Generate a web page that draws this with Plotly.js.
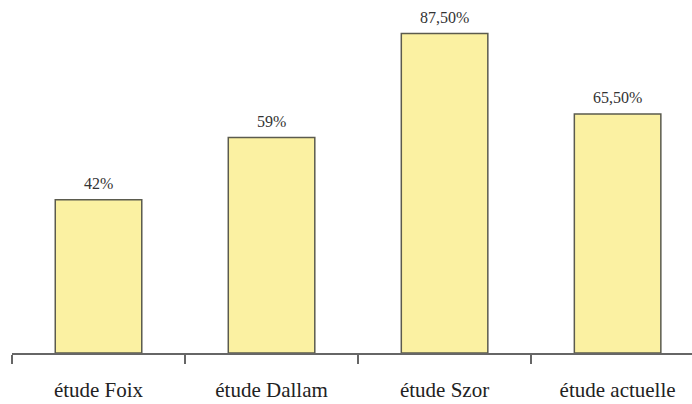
<!DOCTYPE html>
<html>
<head>
<meta charset="utf-8">
<script src="https://cdn.plot.ly/plotly-3.0.1.min.js"></script>
<style>html,body{margin:0;padding:0;background:#fff;}#chart{width:692px;height:404px;}</style>
</head>
<body>
<div id="chart"></div>
<script>
var categories = ["étude Foix", "étude Dallam", "étude Szor", "étude actuelle"];
var values = [42, 59, 87.5, 65.5];
var valueLabels = ["42%", "59%", "87,50%", "65,50%"];

var trace = {
  type: "bar",
  x: categories,
  y: values,
  marker: {color: "#fbf1a2", line: {color: "#5b5b4e", width: 1.5}},
  hoverinfo: "none"
};

var annotations = categories.map(function(c, i){
  return {x: c, y: values[i], text: valueLabels[i], showarrow: false,
    yanchor: "bottom", yshift: 6, xref: "x", yref: "y",
    font: {family: "Liberation Serif, Times New Roman, serif", size: 16, color: "#333"}};
});

var layout = {
  width: 692, height: 404,
  margin: {l: 11.5, r: 0, t: 0, b: 51},
  paper_bgcolor: "#fff", plot_bgcolor: "#fff",
  showlegend: false,
  bargap: 0.5,
  xaxis: {
    type: "category",
    range: [-0.5, 3.43],
    showline: true, linecolor: "#666", linewidth: 1.5,
    ticks: "outside", tickson: "boundaries", ticklen: 9, tickcolor: "#666", tickwidth: 1.5,
    ticklabelstandoff: 17,
    tickfont: {family: "Liberation Serif, Times New Roman, serif", size: 21, color: "#222"},
    showgrid: false, zeroline: false, fixedrange: true
  },
  yaxis: {
    range: [0, 96.7],
    visible: false, showgrid: false, zeroline: false, fixedrange: true
  },
  annotations: annotations
};

Plotly.newPlot("chart", [trace], layout, {displayModeBar: false, staticPlot: true});
</script>
</body>
</html>
